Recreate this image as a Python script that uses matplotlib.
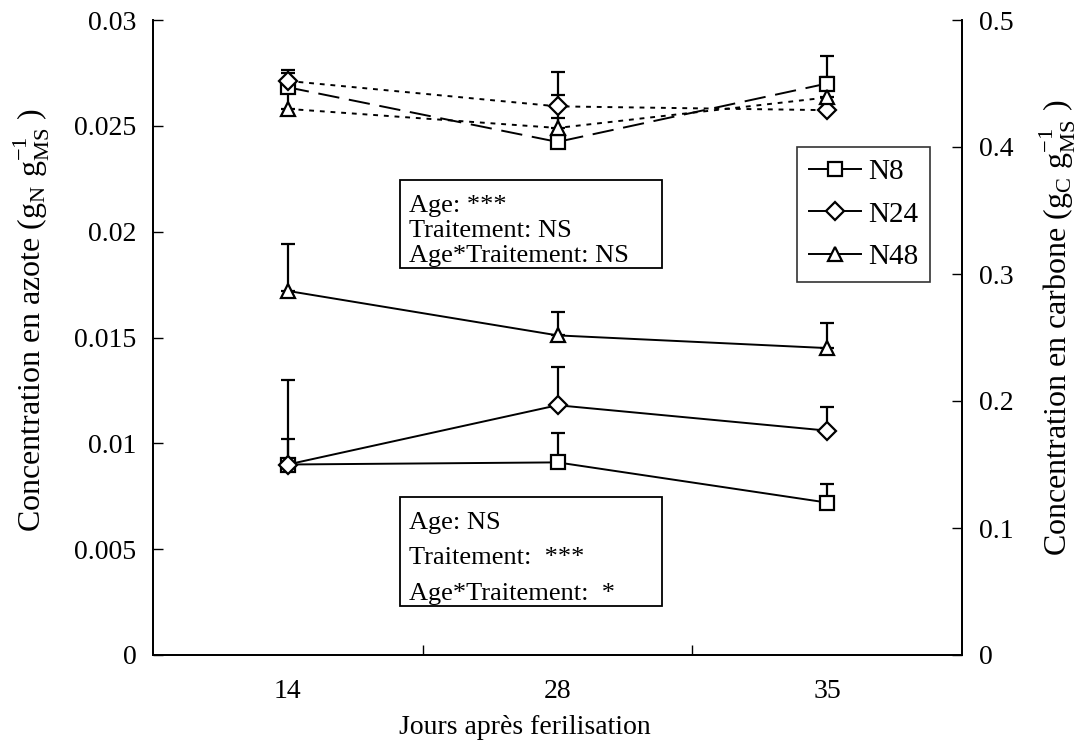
import matplotlib
matplotlib.use("Agg")
import matplotlib.pyplot as plt
from matplotlib.patches import Rectangle
from matplotlib.lines import Line2D
import numpy as np

plt.rcParams['font.family'] = ['Liberation Serif', 'DejaVu Serif']
plt.rcParams['mathtext.fontset'] = 'custom'
plt.rcParams['mathtext.rm'] = 'Liberation Serif'

days = ['14', '28', '35']
series = ['N8', 'N24', 'N48']
markers = {'N8': 's', 'N24': 'D', 'N48': '^'}

# Nitrogen concentration (left axis)
nitro_N8 = [0.0090, 0.0091, 0.0072]
nitro_N24 = [0.0090, 0.0118, 0.0106]
nitro_N48 = [0.0172, 0.0151, 0.0145]
nitro_err_N8 = [0.0012, 0.0014, 0.0009]
nitro_err_N24 = [0.0040, 0.0018, 0.0011]
nitro_err_N48 = [0.0022, 0.0011, 0.0012]

# Carbon concentration (right axis)
carb_N8 = [0.447, 0.404, 0.450]
carb_N24 = [0.452, 0.432, 0.429]
carb_N48 = [0.430, 0.415, 0.439]
carb_err_N8 = [0.011, 0.055, 0.022]
carb_err_N24 = [0.009, 0.009, 0.005]
carb_err_N48 = [0.018, 0.008, 0.016]

W, H = 1086, 746
fig = plt.figure(figsize=(W / 100, H / 100), dpi=100)
L, R, B, T = 153, 962, 655, 20
ax = fig.add_axes([L / W, 1 - B / H, (R - L) / W, (B - T) / H])
ax2 = ax.twinx()

x = np.arange(len(days))
xlim = (-0.5, 2.5)

mk = dict(markersize=10, markerfacecolor='white', markeredgecolor='black',
          markeredgewidth=1.6)
mkd = dict(mk, markersize=9)
eb = dict(ecolor='black', elinewidth=1.6, capsize=5, capthick=1.6)

nitro = {'N8': (nitro_N8, nitro_err_N8), 'N24': (nitro_N24, nitro_err_N24),
         'N48': (nitro_N48, nitro_err_N48)}
carb = {'N8': (carb_N8, carb_err_N8), 'N24': (carb_N24, carb_err_N24),
        'N48': (carb_N48, carb_err_N48)}
carb_ls = {'N8': (0, (11, 5)), 'N24': (0, (2.5, 3)), 'N48': (0, (2.5, 3))}

for s in series:
    v, e = nitro[s]
    ax.errorbar(x, v, yerr=[np.zeros(3), e], fmt='none', **eb, zorder=2)
    ax.plot(x, v, color='black', lw=1.4, marker=markers[s], zorder=3,
            **(mk if markers[s] != 'D' else mkd))
for s in series:
    v, e = carb[s]
    ax2.errorbar(x, v, yerr=[np.zeros(3), e], fmt='none', **eb, zorder=2)
    ax2.plot(x, v, color='black', lw=1.4, linestyle=carb_ls[s],
             marker=markers[s], zorder=3,
             **(mk if markers[s] != 'D' else mkd))

ax.set_xlim(*xlim)
ax.set_ylim(0, 0.03)
ax2.set_ylim(0, 0.5)
ax.set_yticks([0, 0.005, 0.01, 0.015, 0.02, 0.025, 0.03])
ax.set_yticklabels(['0', '0.005', '0.01', '0.015', '0.02', '0.025', '0.03'])
ax2.set_yticks([0, 0.1, 0.2, 0.3, 0.4, 0.5])
ax2.set_yticklabels(['0', '0.1', '0.2', '0.3', '0.4', '0.5'])
ax.set_xticks([0.5, 1.5])
ax.set_xticklabels([])
ax.tick_params(axis='x', direction='in', length=7, width=1)
ax.tick_params(axis='y', direction='in', length=7, width=1, labelsize=20, pad=12)
ax2.tick_params(axis='y', direction='in', length=7, width=1, labelsize=20, pad=12)
for a in (ax, ax2):
    a.spines['top'].set_visible(False)
    for sp in ('left', 'right', 'bottom'):
        a.spines[sp].set_linewidth(1.3)

for i, d in enumerate(days):
    ax.text(i, -(692 - 655) / 635, d, transform=ax.get_xaxis_transform(),
            ha='center', va='center', fontsize=20)

fig.text(525 / W, 1 - 727 / H, 'Jours après ferilisation', ha='center',
         va='center', fontsize=20)
fig.text(32 / W, 1 - 320 / H,
         r'Concentration en azote (g$_{\mathregular{N}}$ g$_{\mathregular{MS}}^{\mathregular{-1}}$ )',
         rotation=90, ha='center', va='center', fontsize=23)
fig.text(1058 / W, 1 - 328 / H,
         r'Concentration en carbone (g$_{\mathregular{C}}$ g$_{\mathregular{MS}}^{\mathregular{-1}}$ )',
         rotation=90, ha='center', va='center', fontsize=23)

# Statistics boxes
def stat_box(x0, y0, x1, y1, lines, ys):
    fig.add_artist(Rectangle((x0 / W, 1 - y1 / H), (x1 - x0) / W, (y1 - y0) / H,
                             transform=fig.transFigure, facecolor='white',
                             edgecolor='black', lw=1.3, zorder=5))
    for t, yy in zip(lines, ys):
        fig.text((x0 + 9) / W, 1 - yy / H, t, ha='left', va='center',
                 fontsize=19, zorder=6)

stat_box(400, 180, 662, 268, ['Age: ***', 'Traitement: NS', 'Age*Traitement: NS'],
         [206, 231, 256])
stat_box(400, 497, 662, 606, ['Age: NS', 'Traitement:  ***', 'Age*Traitement:  *'],
         [523, 558, 594])

handles = [Line2D([], [], color='black', lw=1.4, marker=markers[s],
                  **(mk if markers[s] != 'D' else mkd))
           for s in series]
leg = fig.legend(handles, series, loc='upper left',
                 bbox_to_anchor=(797 / W, 1 - 147 / H), frameon=True,
                 fancybox=False, edgecolor='black', fontsize=21,
                 handlelength=1.8, handletextpad=0.25, borderpad=0.4,
                 labelspacing=0.55, borderaxespad=0)
leg.get_frame().set_linewidth(1.2)

fig.savefig('out.png', dpi=100)
